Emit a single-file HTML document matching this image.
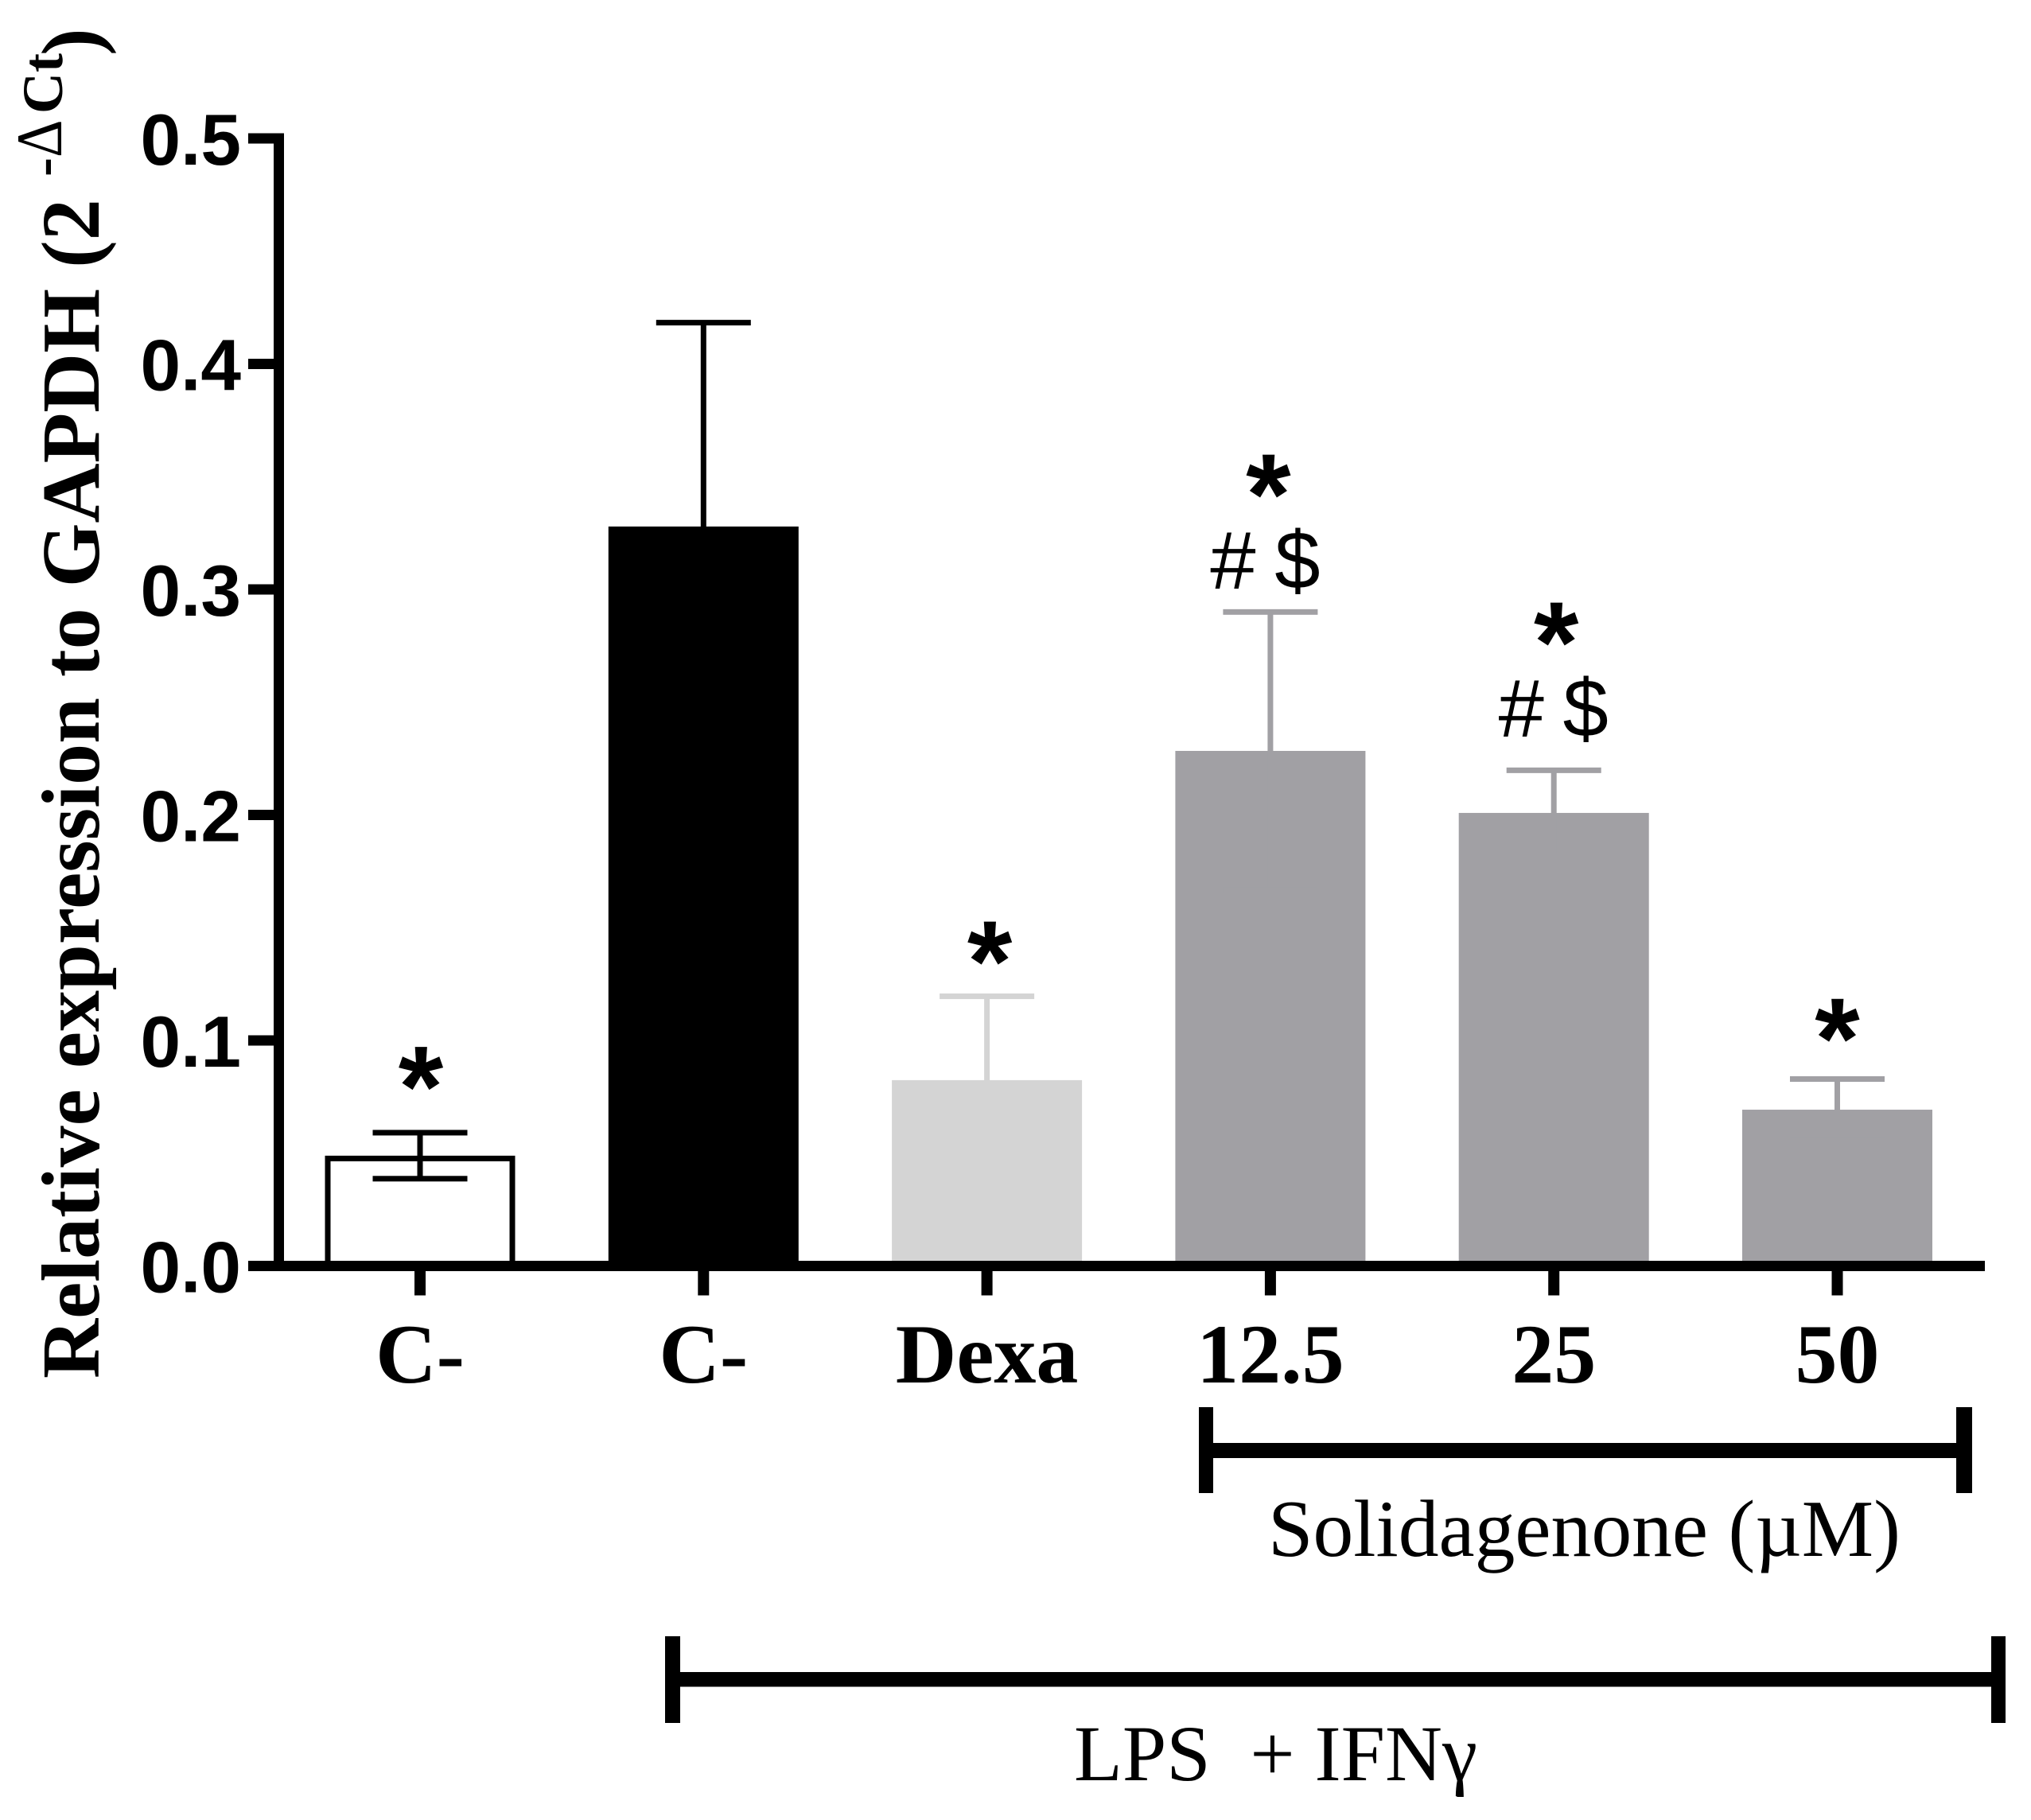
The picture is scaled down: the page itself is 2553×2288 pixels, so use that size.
<!DOCTYPE html>
<html lang="en">
<head>
<meta charset="utf-8">
<title>Relative expression to GAPDH</title>
<style>
html,body{margin:0;padding:0;background:#fff;}
svg{display:block;}
.serif{font-family:"Liberation Serif",serif;fill:#000;}
.sans{font-family:"Liberation Sans",sans-serif;fill:#000;}
</style>
</head>
<body>
<svg id="chart" xmlns="http://www.w3.org/2000/svg" width="2553" height="2288" viewBox="0 0 2553 2288">
  <rect x="0" y="0" width="2553" height="2288" fill="#ffffff"/>
  <g id="bars"></g>
  <g id="annotations"></g>
  <g id="axes"></g>

  <g>
    <text class="serif" transform="translate(124 1733) rotate(-90)" font-size="104" font-weight="700" style="white-space:pre">Relative expression to GAPDH (2</text>
    <text class="serif" transform="translate(78 222) rotate(-90)" font-size="72" font-weight="700">-</text>
    <text class="serif" transform="translate(77 198) rotate(-90) scale(.9 1)" font-size="82">Δ</text>
    <text class="serif" transform="translate(78 143) rotate(-90)" font-size="72" font-weight="700">Ct</text>
    <text class="serif" transform="translate(124 70) rotate(-90)" font-size="104" font-weight="700">)</text>
  </g>

  <g fill="#000">
    <rect x="1507" y="1769" width="18" height="108"/>
    <rect x="1507" y="1814" width="972" height="19"/>
    <rect x="2459" y="1769" width="20" height="108"/>
  </g>
  <text class="serif" x="1594" y="1956" font-size="101.6">Solidagenone (µM)</text>

  <g fill="#000">
    <rect x="836" y="2057" width="19" height="109"/>
    <rect x="836" y="2102" width="1685" height="18.5"/>
    <rect x="2503" y="2057" width="18" height="109"/>
  </g>
  <text class="serif" x="1350" y="2238" font-size="99.6" style="white-space:pre">LPS  + IFNγ</text>
</svg>

<script>
const categories = ['C-', 'C-', 'Dexa', '12.5', '25', '50'];
const barNames = ['control-negative', 'control-lps', 'dexa', 'dose-12-5', 'dose-25', 'dose-50'];
const meanValues = [0.0489, 0.3279, 0.0824, 0.2284, 0.2009, 0.0693];
const errorValues = [0.0102, 0.0904, 0.0372, 0.0616, 0.0189, 0.0136];
const barFills = ['#ffffff', '#000000', '#d4d4d4', '#a1a0a4', '#a1a0a4', '#a1a0a4'];
const errorColors = ['#000000', '#000000', '#d4d4d4', '#a1a0a4', '#a1a0a4', '#a1a0a4'];
const yTickValues = [0, 0.1, 0.2, 0.3, 0.4, 0.5];
const yTickLabels = ['0.0', '0.1', '0.2', '0.3', '0.4', '0.5'];
const starMarks = ['*', '', '*', '*', '*', '*'];
const secondaryMarks = ['', '', '', '# $', '# $', ''];

const NS = 'http://www.w3.org/2000/svg';
const yZero = 1591.5, pxPerUnit = 2835;
const xFirst = 528, xStep = 356.3;
const barHalf = 119.5, capHalf = 59.5, stemWidth = 7, capHeight = 7;
const axisThick = 13, tickLen = 37;
/* annotation layout: clearance above the error cap and nudge from the bar centre */
const starLift = [8, 0, -6, 98, 111, 1];
const starNudge = [1, 0, 3.5, -2.5, 3, 0];
const secondaryLift = [0, 0, 0, 29.5, 42.5, 0];
const secondaryNudge = [0, 0, 0, -6.5, -0.5, 0];

function yScale(v) { return yZero - v * pxPerUnit; }
function xScale(i) { return xFirst + i * xStep; }

function rect(parent, x, y, w, h, fill) {
  const el = document.createElementNS(NS, 'rect');
  el.setAttribute('x', x);
  el.setAttribute('y', y);
  el.setAttribute('width', w);
  el.setAttribute('height', h);
  el.setAttribute('fill', fill);
  parent.appendChild(el);
  return el;
}
function label(parent, txt, x, y, size, weight, cls, anchor) {
  const el = document.createElementNS(NS, 'text');
  el.textContent = txt;
  el.setAttribute('x', x);
  el.setAttribute('y', y);
  el.setAttribute('font-size', size);
  el.setAttribute('font-weight', weight);
  el.setAttribute('class', cls);
  el.setAttribute('text-anchor', anchor);
  parent.appendChild(el);
  return el;
}

const barsG = document.getElementById('bars');
const annG = document.getElementById('annotations');
const axesG = document.getElementById('axes');

categories.forEach(function (cat, i) {
  const cx = xScale(i);
  const top = yScale(meanValues[i]);
  const up = yScale(meanValues[i] + errorValues[i]);
  const low = yScale(meanValues[i] - errorValues[i]);
  const hollow = barFills[i] === '#ffffff';

  let bar;
  if (hollow) {
    bar = rect(barsG, cx - barHalf + 3.5, top + 3.5, barHalf * 2 - 7, yZero - top - 3.5, '#ffffff');
    bar.setAttribute('stroke', '#000000');
    bar.setAttribute('stroke-width', 7);
  } else {
    bar = rect(barsG, cx - barHalf, top, barHalf * 2, yZero - top, barFills[i]);
  }
  
  

  const stem = rect(barsG, cx - stemWidth / 2, up, stemWidth, low - up, errorColors[i]);
  
  

  const capTop = rect(barsG, cx - capHalf, up - capHeight / 2, capHalf * 2, capHeight, errorColors[i]);
  
  

  const capLow = rect(barsG, cx - capHalf, low - capHeight / 2, capHalf * 2, capHeight, errorColors[i]);
  
  

  if (secondaryMarks[i]) {
    const sec = label(annG, secondaryMarks[i], cx + secondaryNudge[i], up - secondaryLift[i], 103, 400, 'sans', 'middle');
    sec.setAttribute('word-spacing', '-5');
    
    
  }
  if (starMarks[i]) {
    const star = label(annG, starMarks[i], cx + starNudge[i], up - starLift[i], 145, 700, 'sans', 'middle');
    
    
  }

  const tick = rect(axesG, cx - 7, yZero, 14, tickLen, '#000000');
  
  

  const tl = label(axesG, cat, cx, 1738, 106, 700, 'serif', 'middle');
  
  
});

const yAxis = rect(axesG, 344, yScale(0.5) - axisThick / 2, axisThick, yZero - yScale(0.5) + axisThick, '#000000');



const xAxis = rect(axesG, 312, yZero - axisThick / 2, 2495 - 312, axisThick, '#000000');



yTickValues.forEach(function (v, i) {
  const py = yScale(v);
  const t = rect(axesG, 312, py - axisThick / 2, 40, axisThick, '#000000');
  
  
  const tl = label(axesG, yTickLabels[i], 303, py + 33, 91, 700, 'sans', 'end');
  
  
});
</script>
</body>
</html>
